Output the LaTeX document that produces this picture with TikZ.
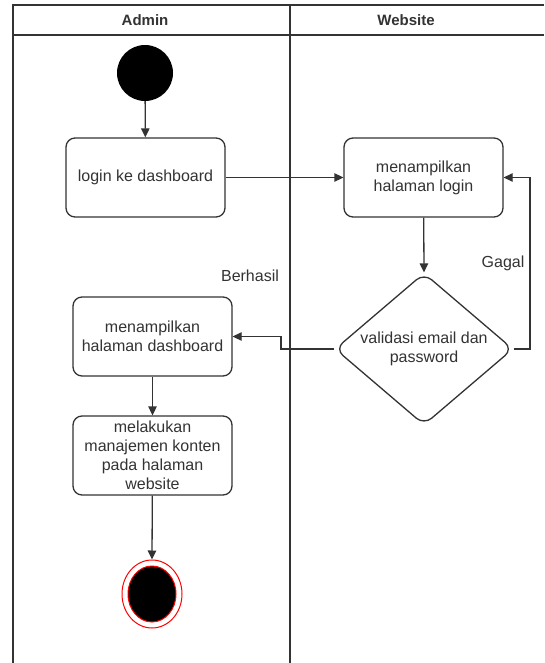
\documentclass[tikz,border=0pt]{standalone}
\usepackage{fontspec}
\setmainfont{Liberation Sans}
\usetikzlibrary{arrows.meta,shapes.geometric}
\definecolor{ink}{HTML}{333333}
\definecolor{endred}{HTML}{FF0000}
\begin{document}
\begin{tikzpicture}[x=1pt,y=-1pt,
  every node/.style={font=\fontsize{16}{19}\selectfont, text=ink},
  lane/.style={draw=ink, line width=1.5pt},
  action/.style={draw=ink, line width=1.3pt, rounded corners=9pt, minimum width=159pt, minimum height=79pt, align=center, inner sep=2pt},
  decision/.style={draw=ink, line width=1.3pt, diamond, rounded corners=10pt, minimum width=178pt, minimum height=152pt, aspect=1.17, align=center, inner sep=0pt},
  flow/.style={draw=ink, line width=1.3pt, -{Triangle[length=9pt,width=8.5pt]}},
  lanehead/.style={font=\bfseries\fontsize{15}{19}\selectfont, text=ink},
  guard/.style={text=ink}]
  \useasboundingbox (0,0) rectangle (544,663);
  \fill[white] (0,0) rectangle (544,663);

  % swimlanes
  \draw[lane] (13,663) -- (13,5) -- (544,5);
  \draw[lane] (13,35) -- (544,35);
  \draw[lane] (290,5) -- (290,663);
  \node[lanehead] (hadmin) at (145,20) {Admin};
  \node[lanehead] (hweb) at (406,20) {Website};

  % activity nodes
  \node[circle, fill=black, minimum size=56pt, inner sep=0pt] (start) at (145,73) {};
  \node[action] (login) at (145.5,177.5) {login ke dashboard};
  \node[action] (showlogin) at (423.5,177.5) {menampilkan\\halaman login};
  \node[decision] (check) at (424,349) {validasi email dan\\password};
  \node[action] (dash) at (152.5,336.5) {menampilkan\\halaman dashboard};
  \node[action] (manage) at (152.5,455.5) {melakukan\\manajemen konten\\pada halaman\\website};
  \node[ellipse, draw=endred, line width=1pt, minimum width=60pt, minimum height=68pt, inner sep=0pt] (stop) at (152,594) {};
  \fill[black, draw=endred, line width=1pt] (stop.center) ellipse [x radius=24pt, y radius=28pt];

  % control flow
  \coordinate (failR) at (530,349);
  \coordinate (failT) at (530,177.5);
  \coordinate (okA) at (281,349);
  \coordinate (okB) at (281,336.5);
  \draw[flow] (start) -- (login);
  \draw[flow] (login) -- (showlogin);
  \draw[flow] (showlogin) -- (check.north);
  \draw[flow] (check.east) -- (failR) -- (failT) -- (showlogin.east);
  \draw[flow] (check.west) -- (okA) -- (okB) -- (dash.east);
  \draw[flow] (dash) -- (manage);
  \draw[flow] (manage) -- (stop.north);

  % guards
  \node[guard] (gagal) at (503,263) {Gagal};
  \node[guard] (berhasil) at (250,276) {Berhasil};
\end{tikzpicture}
\end{document}
